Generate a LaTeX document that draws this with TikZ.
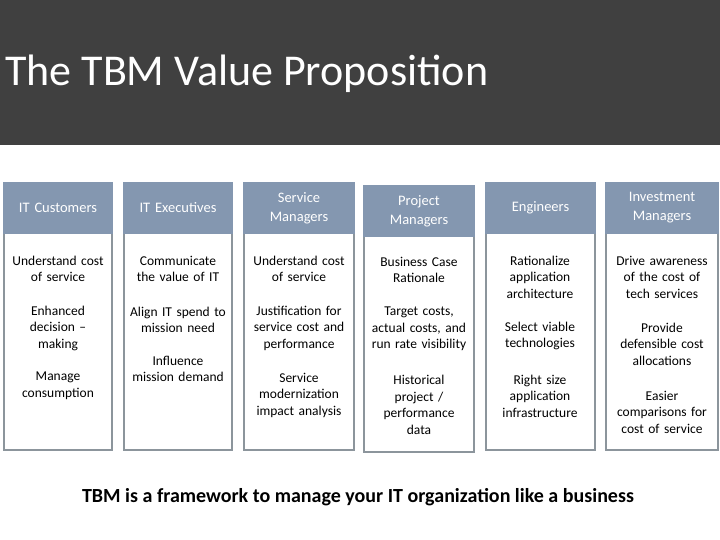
\documentclass[tikz,border=0pt]{standalone}
\usepackage{fontspec}
\setmainfont{Carlito}
\definecolor{band}{HTML}{404040}
\definecolor{hdr}{HTML}{8497B0}
\definecolor{bord}{HTML}{8C959C}
\begin{document}
\begin{tikzpicture}[x=1pt,y=-1pt,
  hbox/.style={fill=hdr,draw=hdr,line width=2pt},
  bbox/.style={draw=bord,line width=1.6pt,fill=white},
  htxt/.style={text=white,font=\fontsize{14.5}{19}\selectfont,align=center,text width=106pt},
  btxt/.style={font=\fontsize{13.5}{16.5}\selectfont,align=center,text width=110pt}]
\useasboundingbox (0,0) rectangle (720,540);
\fill[band] (0,0) rectangle (720,145);
\node[anchor=base west,text=white,font=\fontsize{44}{46}\selectfont,inner sep=0] (title) at (5,86) {The TBM Value Proposition};
% columns
\foreach \l/\r/\t/\b/\n in {4/112/183/450/a,124/232/183/450/b,244/354/183/450/c,364/474/186/452/d,486/595/183/450/e,606/718/183/450/f}{
  \draw[bbox] (\l,\t+50) rectangle (\r,\b);
  \draw[hbox] (\l,\t) rectangle (\r,\t+50);
  \coordinate (\n) at ({(\l+\r)/2},\t+25);
}
\node[htxt] (ha) at (a) {IT Customers};
\node[htxt] (hb) at (b) {IT Executives};
\node[htxt] (hc) at (c) {Service\\Managers};
\node[htxt] (hd) at (d) {Project\\Managers};
\node[htxt] (he) at (e) {Engineers};
\node[htxt] (hf) at (f) {Investment\\Managers};
% col1
\node[btxt] (a1) at (58,269) {Understand cost\\of service};
\node[btxt] (a2) at (58,328) {Enhanced\\decision --\\making};
\node[btxt] (a3) at (58,386) {Manage\\consumption};
% col2
\node[btxt] (b1) at (178,269) {Communicate\\the value of IT};
\node[btxt] (b2) at (178,320) {Align IT spend to\\mission need};
\node[btxt] (b3) at (178,369) {Influence\\mission demand};
% col3
\node[btxt] (c1) at (299,269) {Understand cost\\of service};
\node[btxt] (c2) at (299,328) {Justification for\\service cost and\\performance};
\node[btxt] (c3) at (299,395) {Service\\modernization\\impact analysis};
% col4
\node[btxt] (d1) at (419,270) {Business Case\\Rationale};
\node[btxt] (d2) at (419,329) {Target costs,\\actual costs, and\\run rate visibility};
\node[btxt] (d3) at (419,405) {Historical\\project /\\performance\\data};
% col5
\node[btxt] (e1) at (540,277) {Rationalize\\application\\architecture};
\node[btxt] (e2) at (540,336) {Select viable\\technologies};
\node[btxt] (e3) at (540,396) {Right size\\application\\infrastructure};
% col6
\node[btxt] (f1) at (662,277) {Drive awareness\\of the cost of\\tech services};
\node[btxt] (f2) at (662,344) {Provide\\defensible cost\\allocations};
\node[btxt] (f3) at (662,412) {Easier\\comparisons for\\cost of service};
\node[font=\bfseries\fontsize{20}{22}\selectfont] (foot) at (358,497) {TBM is a framework to manage your IT organization like a business};
\end{tikzpicture}
\end{document}
